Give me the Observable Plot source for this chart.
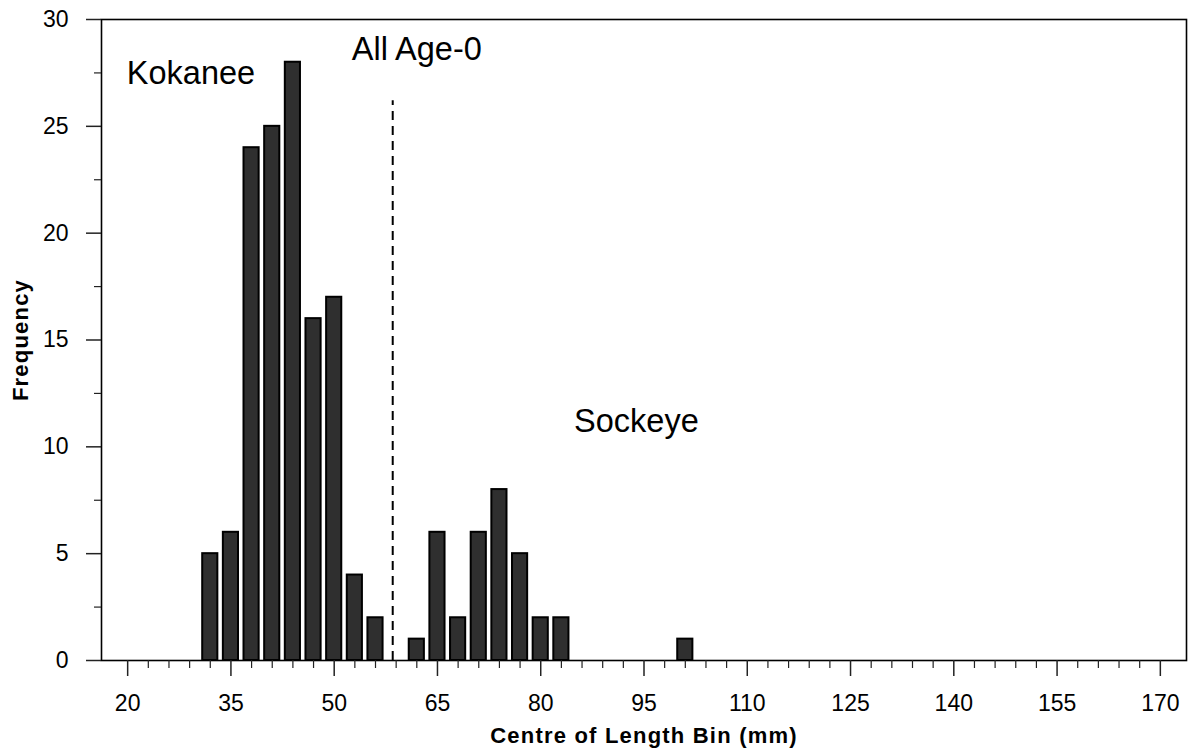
<!DOCTYPE html>
<html>
<head>
<meta charset="utf-8">
<script src="https://cdn.jsdelivr.net/npm/d3@7"></script>
<script src="https://cdn.jsdelivr.net/npm/@observablehq/plot@0.6"></script>
<style>
  body { margin: 0; background: #fff; }
  #chart svg { display: block; }
</style>
</head>
<body>
<div id="chart"></div>
<script>
// Length-frequency of age-0 O. nerka, 3 mm bins
const binCentres  = [32, 35, 38, 41, 44, 47, 50, 53, 56, 62, 65, 68, 71, 74, 77, 80, 83, 101];
const frequencies = [ 5,  6, 24, 25, 28, 16, 17,  4,  2,  1,  6,  2,  6,  8,  5,  2,  2,   1];

const xTickLabels = [20, 35, 50, 65, 80, 95, 110, 125, 140, 155, 170];
const yTickLabels = [0, 5, 10, 15, 20, 25, 30];

// split between kokanee and sockeye size modes
const cutoffLength = 58.5;
const cutoffTop = 26.2;

// annotation text, anchored in data units (length mm, frequency)
const annotationText = ["Kokanee", "All Age-0", "Sockeye"];
const annotationLength = [29.2, 62.0, 93.9];
const annotationFreq = [27.0, 28.1, 10.7];

const bins = binCentres.map((c, i) => ({c, n: frequencies[i]}));
const annotations = annotationText.map((t, i) => ({t, x: annotationLength[i], y: annotationFreq[i]}));

const binHalf = 1.1;
const xMinor = d3.range(20, 171, 3).filter(v => !xTickLabels.includes(v));
const yMinor = d3.range(2.5, 30, 5);
const font = "'Liberation Sans', Arial, Helvetica, sans-serif";

const chart = Plot.plot({
  width: 1188,
  height: 752,
  marginLeft: 101,
  marginRight: 2,
  marginTop: 19,
  marginBottom: 92,
  style: {fontFamily: font, fontSize: "22px", background: "#fff", color: "#000"},
  x: {domain: [16.2, 173.8]},
  y: {domain: [0, 30]},
  marks: [
    Plot.rectY(bins, {
      x1: d => d.c - binHalf, x2: d => d.c + binHalf, y: "n",
      fill: "#2f2f2f", stroke: "#000", strokeWidth: 2
    }),
    Plot.ruleX([cutoffLength], {y1: 0, y2: cutoffTop, stroke: "#000", strokeWidth: 2, strokeDasharray: "9,6"}),
    Plot.frame({stroke: "#000", strokeWidth: 1.6}),
    Plot.axisX({ticks: xTickLabels, tickSize: 16, tickPadding: 18, stroke: "#222", strokeWidth: 1.5, label: null}),
    Plot.axisX({ticks: xMinor, tickSize: 8, text: null, stroke: "#222", strokeWidth: 1.2, label: null}),
    Plot.axisY({ticks: yTickLabels, tickSize: 15, tickPadding: 18, stroke: "#222", strokeWidth: 1.5, label: null}),
    Plot.axisY({ticks: yMinor, tickSize: 7, text: null, stroke: "#222", strokeWidth: 1.2, label: null}),
    Plot.text(annotations, {x: "x", y: "y", text: "t", textAnchor: "middle", lineAnchor: "bottom", fontSize: 32.5, fill: "#000"}),
    Plot.text(["Centre of Length Bin (mm)"], {frameAnchor: "bottom", textAnchor: "middle", lineAnchor: "bottom", dy: 82, fontSize: 22, fontWeight: "bold", fill: "#000"}),
    Plot.text(["Frequency"], {frameAnchor: "left", textAnchor: "middle", lineAnchor: "bottom", rotate: -90, dx: -74, fontSize: 22, fontWeight: "bold", fill: "#000"})
  ]
});

// numeric tick labels in the larger plain face
d3.select(chart).selectAll("text")
  .filter(function() { return /^\d+$/.test(this.textContent.trim()); })
  .style("font-size", "23px").style("fill", "#000");

d3.select(chart).selectAll("text")
  .filter(function() { return this.textContent === "Centre of Length Bin (mm)" || this.textContent === "Frequency"; })
  .attr("letter-spacing", "1.2px");

document.getElementById("chart").appendChild(chart);
</script>
</body>
</html>
